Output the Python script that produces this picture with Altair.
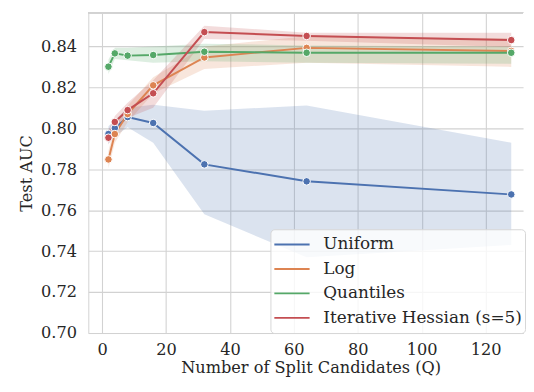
import altair as alt
import pandas as pd

Q = [2, 4, 8, 16, 32, 64, 128]
methods = ["Uniform", "Log", "Quantiles", "Iterative Hessian (s=5)"]
colors = ["#4c72b0", "#dd8452", "#55a868", "#c44e52"]

uniform_mean = [0.7972, 0.8001, 0.8055, 0.8026, 0.7824, 0.7741, 0.7677]
uniform_lo = [0.7925, 0.7960, 0.8005, 0.7930, 0.7580, 0.7370, 0.7430]
uniform_hi = [0.8010, 0.8040, 0.8100, 0.8115, 0.8086, 0.8111, 0.7930]

log_mean = [0.7848, 0.7972, 0.8070, 0.8210, 0.8346, 0.8393, 0.8378]
log_lo = [0.7805, 0.7930, 0.8030, 0.8170, 0.8290, 0.8320, 0.8300]
log_hi = [0.7890, 0.8010, 0.8110, 0.8250, 0.8400, 0.8450, 0.8440]

quant_mean = [0.8301, 0.8366, 0.8355, 0.8358, 0.8374, 0.8369, 0.8369]
quant_lo = [0.8265, 0.8338, 0.8332, 0.8320, 0.8327, 0.8320, 0.8315]
quant_hi = [0.8335, 0.8394, 0.8394, 0.8400, 0.8413, 0.8405, 0.8400]

ih_mean = [0.7954, 0.8031, 0.8089, 0.8171, 0.8470, 0.8451, 0.8431]
ih_lo = [0.7920, 0.8000, 0.8050, 0.8100, 0.8436, 0.8428, 0.8397]
ih_hi = [0.7990, 0.8060, 0.8125, 0.8235, 0.8501, 0.8467, 0.8467]

series = {
    "Uniform": (uniform_mean, uniform_lo, uniform_hi),
    "Log": (log_mean, log_lo, log_hi),
    "Quantiles": (quant_mean, quant_lo, quant_hi),
    "Iterative Hessian (s=5)": (ih_mean, ih_lo, ih_hi),
}

rows = []
for m in methods:
    mean, lo, hi = series[m]
    for q, a, l, h in zip(Q, mean, lo, hi):
        rows.append({"method": m, "Q": q, "auc": a, "lo": l, "hi": h})
df = pd.DataFrame(rows)

FONT = "DejaVu Serif"
FS = 16.5
TXT = "#262626"
GRID = "#d2d2d2"
W, H = 444, 327

xscale = alt.Scale(domain=[-4.3, 131.7], nice=False, zero=False)
yscale = alt.Scale(domain=[0.70, 0.8564], nice=False, zero=False)
cscale = alt.Scale(domain=methods, range=colors)
# same mapping, listed in reverse so the fill legend stays separate (and hidden)
fscale = alt.Scale(domain=methods[::-1], range=colors[::-1])

xaxis = alt.Axis(
    title="Number of Split Candidates (Q)", values=[0, 20, 40, 60, 80, 100, 120],
    ticks=False, labelPadding=9, titlePadding=2, domainColor=GRID, gridColor=GRID,
    titleX=227,
)
yaxis = alt.Axis(
    title="Test AUC", values=[0.70, 0.72, 0.74, 0.76, 0.78, 0.80, 0.82, 0.84],
    format=".2f", ticks=False, labelPadding=12, titlePadding=6,
    domainColor=GRID, gridColor=GRID,
)

base = alt.Chart(df)

band = base.mark_area(opacity=0.2).encode(
    x=alt.X("Q:Q", scale=xscale, axis=xaxis),
    y=alt.Y("lo:Q", scale=yscale, axis=yaxis),
    y2="hi:Q",
    fill=alt.Fill("method:N", scale=fscale, legend=None),
    detail="method:N",
)

line = base.mark_line(strokeWidth=2).encode(
    x="Q:Q",
    y="auc:Q",
    color=alt.Color("method:N", scale=cscale, sort=methods,
                    legend=alt.Legend(title=None, orient="none", legendX=186, legendY=H - 106,
                                      symbolType="stroke")),
)

pts = base.mark_point(filled=True, size=60, stroke="white", strokeWidth=1, opacity=1).encode(
    x="Q:Q",
    y="auc:Q",
    fill=alt.Fill("method:N", scale=fscale, legend=None),
)

border = alt.Chart(df).mark_rule(color=GRID, strokeWidth=1).encode(
    x=alt.value(0), x2=alt.value(W), y=alt.value(0)
)

chart = alt.layer(band, line, pts, border).properties(
    width=W, height=H,
    padding={"left": 11, "top": 0, "right": 0, "bottom": 0},
).configure_view(stroke=None).configure_axis(
    labelFont=FONT, titleFont=FONT, labelFontSize=FS, titleFontSize=FS,
    labelColor=TXT, titleColor=TXT, titleFontWeight="normal", gridWidth=1.1,
).configure_legend(
    labelFont=FONT, labelFontSize=17.2, labelColor=TXT, symbolType="stroke",
    symbolSize=1296, symbolStrokeWidth=2, labelOffset=13, rowPadding=0,
    clipHeight=25, padding=3, labelLimit=400, fillColor="rgba(255,255,255,0.8)",
    strokeColor="#d6d6d6", cornerRadius=4,
)

chart.save("out.html", embed_options={"renderer": "svg", "actions": False})
